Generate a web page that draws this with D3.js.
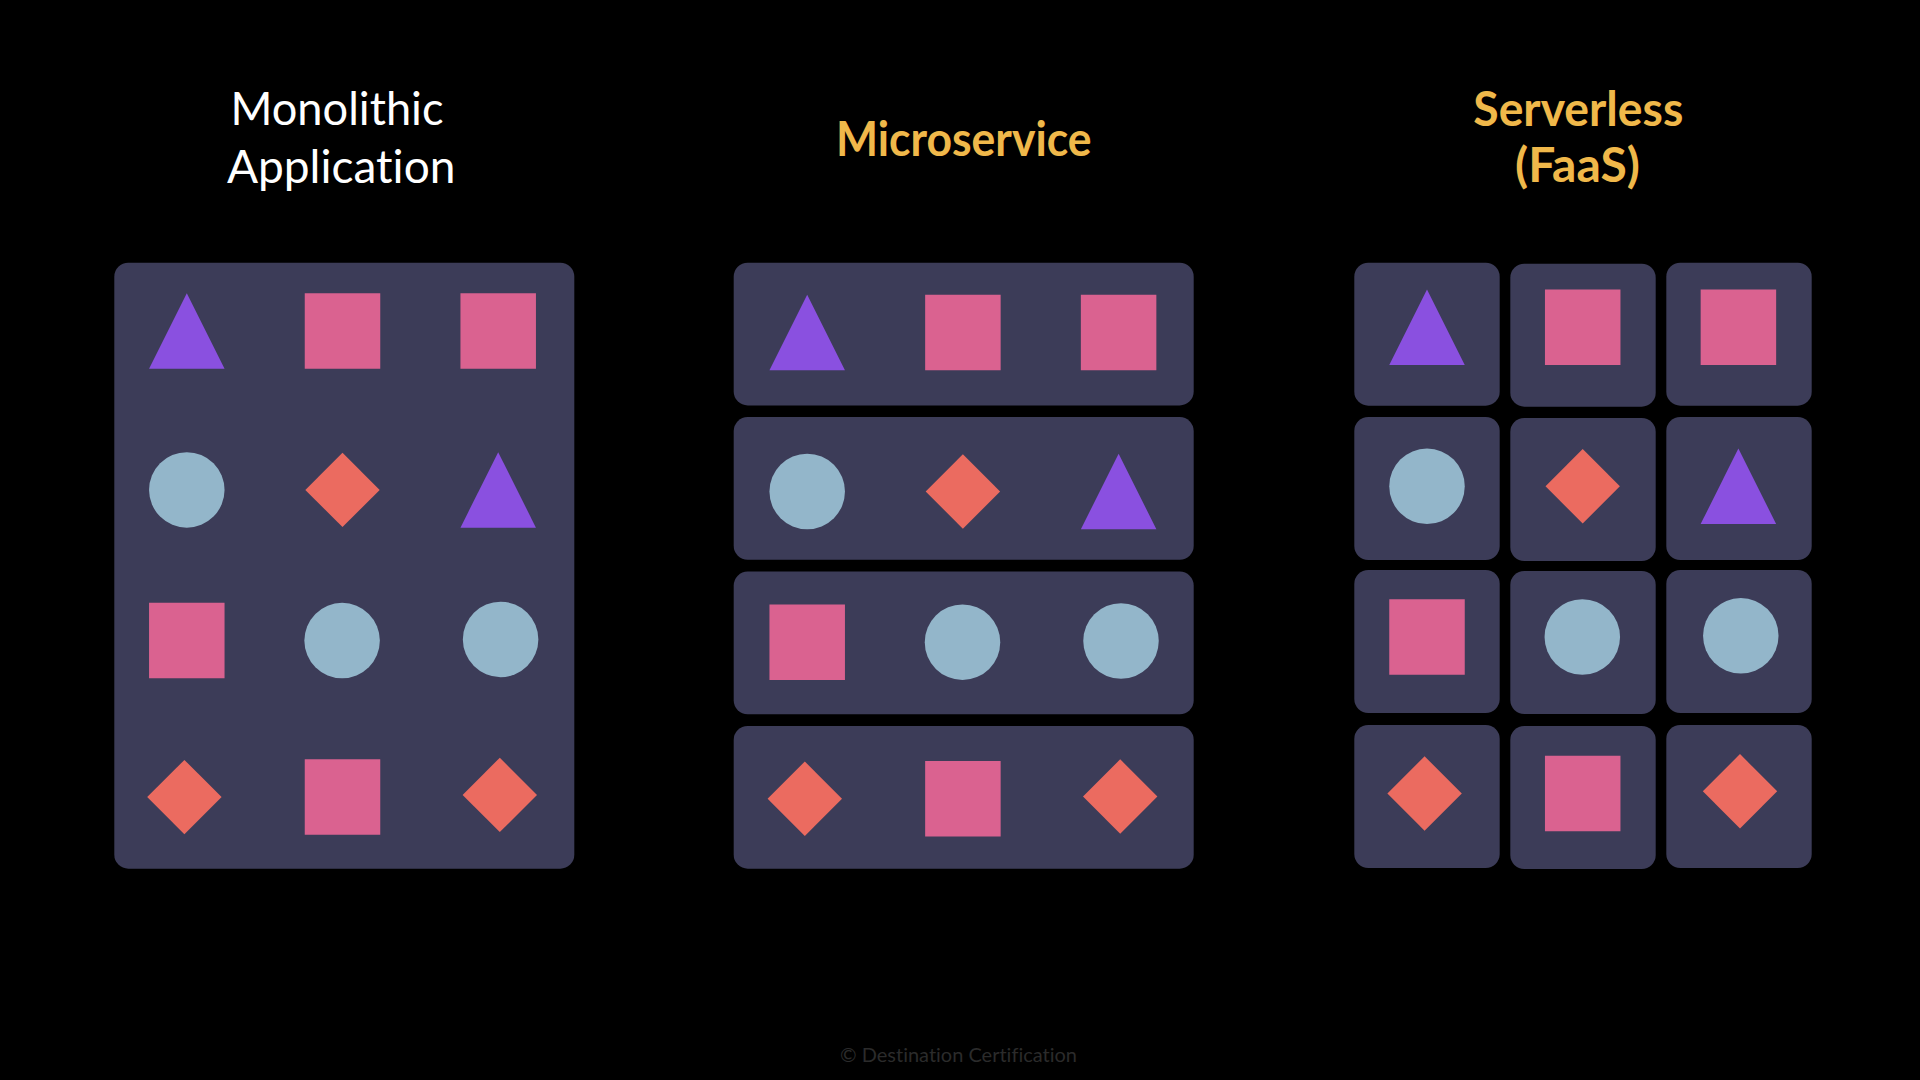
<!DOCTYPE html>
<html>
<head>
<meta charset="utf-8">
<title>Monolithic vs Microservice vs Serverless</title>
<script src="https://cdn.jsdelivr.net/npm/d3@7"></script>
<style>
  html, body { margin: 0; padding: 0; background: #000; overflow: hidden; }
  svg { display: block; }
  text { font-family: Lato, "Open Sans", sans-serif; font-variant-ligatures: none; }
</style>
</head>
<body>
<div class="chart"></div>
<script>
// Chart content
var panelNames = ["monolith", "micro", "faas"];
var titleLines = [["Monolithic", "Application"], ["Microservice"], ["Serverless", "(FaaS)"]];
var shapeRows = [
  ["triangle", "square", "square"],
  ["circle", "diamond", "triangle"],
  ["square", "circle", "circle"],
  ["diamond", "square", "diamond"]
];
var footerText = "\u00a9 Destination Certification";

var svgWidth = 1920;
var svgHeight = 1080;

var colors = {
  triangle: "#8a50e0",
  square: "#da6290",
  circle: "#93b6ca",
  diamond: "#eb6b60",
  box: "#3c3c58",
  white: "#ffffff",
  orange: "#f0b84a",
  footer: "#2b2b2b"
};

// Layout measured from the slide
var markSide = 75.5;
var boxRadius = 14;
var boxTop = 262.7;
var boxBottom = 868.7;

var panelLayout = {
  monolith: { left: 114.3, right: 574.3, markX: 186.8, markY: 330.9 },
  micro: { left: 733.7, right: 1193.7, markX: 807.2, markY: 332.5 },
  faas: { left: 1354.3, right: 1811.7, markX: 1427, markY: 327.3 }
};

// the shapes were placed by hand in the slide, so a few sit off the grid
var markNudge = {
  "2-1": [-0.4, 0],
  "2-2": [2.4, -1.2],
  "3-0": [-2.4, 0],
  "3-2": [1.6, -2.2]
};

var titleLayout = [
  [{ x: 337, y: 125, w: 213 }, { x: 341.2, y: 182.7, w: 228.5 }],
  [{ x: 963.8, y: 155.5, w: 255.7 }],
  [{ x: 1578.3, y: 125.5, w: 210 }, { x: 1577.5, y: 182.2, w: 125 }]
];
var titleColor = [colors.white, colors.orange, colors.orange];
var titleWeight = [400, 700, 700];

var rowIds = d3.range(shapeRows.length);
var colIds = d3.range(shapeRows[0].length);

var svg = d3.select(".chart")
  .append("svg")
  .attr("width", svgWidth)
  .attr("height", svgHeight);

// Custom d3.symbol types, size is the squared side length
var triangleType = {
  draw: function(context, size) {
    var s = Math.sqrt(size) / 2;
    context.moveTo(0, -s);
    context.lineTo(s, s);
    context.lineTo(-s, s);
    context.closePath();
  }
};
var diamondType = {
  draw: function(context, size) {
    var s = Math.sqrt(size) / 2;
    context.moveTo(0, -s);
    context.lineTo(s, 0);
    context.lineTo(0, s);
    context.lineTo(-s, 0);
    context.closePath();
  }
};

var symbolFor = {
  triangle: d3.symbol().type(triangleType).size(markSide * markSide),
  square: d3.symbol().type(d3.symbolSquare).size(markSide * markSide),
  circle: d3.symbol().type(d3.symbolCircle).size(Math.PI * markSide * markSide / 4),
  diamond: d3.symbol().type(diamondType).size(74.4 * 74.4)
};

// Mark positions relative to the first cell of a panel
var colScale = d3.scalePoint().domain(colIds).range([0, 311.4]);
var rowScale = d3.scaleOrdinal().domain(rowIds).range([0, 159, 309.7, 466.2]);

// Boxes behind the marks
var microRowScale = d3.scaleBand()
  .domain(rowIds)
  .range([boxTop, boxBottom])
  .paddingInner(0.0755);

var faasColScale = d3.scaleBand()
  .domain(colIds)
  .range([panelLayout.faas.left, panelLayout.faas.right])
  .paddingInner(0.068);
var faasRowTop = d3.scaleOrdinal().domain(rowIds).range([262.7, 417, 570, 725]);
var faasBoxHeight = 143;

var boxes = [];
boxes.push({
  x: panelLayout.monolith.left,
  y: boxTop,
  w: panelLayout.monolith.right - panelLayout.monolith.left,
  h: boxBottom - boxTop
});
rowIds.forEach(function(r) {
  boxes.push({
    x: panelLayout.micro.left,
    y: microRowScale(r),
    w: panelLayout.micro.right - panelLayout.micro.left,
    h: microRowScale.bandwidth()
  });
  colIds.forEach(function(c) {
    boxes.push({
      x: faasColScale(c),
      y: faasRowTop(r) + (c === 1 ? 1 : 0),
      w: faasColScale.bandwidth(),
      h: faasBoxHeight
    });
  });
});

svg.append("g")
  .selectAll("rect")
  .data(boxes)
  .enter()
  .append("rect")
  .attr("x", d => d.x)
  .attr("y", d => d.y)
  .attr("width", d => d.w)
  .attr("height", d => d.h)
  .attr("rx", boxRadius)
  .attr("fill", colors.box);

// Same 4x3 set of shapes in every panel
var marks = [];
panelNames.forEach(function(panel) {
  shapeRows.forEach(function(row, r) {
    row.forEach(function(shape, c) {
      marks.push({ panel: panel, row: r, col: c, shape: shape });
    });
  });
});

svg.append("g")
  .selectAll("path")
  .data(marks)
  .enter()
  .append("path")
  .attr("d", d => symbolFor[d.shape]())
  .attr("fill", d => colors[d.shape])
  .attr("transform", function(d) {
    var nudge = markNudge[d.row + "-" + d.col] || [0, 0];
    var x = panelLayout[d.panel].markX + colScale(d.col) + nudge[0];
    var y = panelLayout[d.panel].markY + rowScale(d.row) + nudge[1];
    return `translate(${x}, ${y})`;
  });

// Titles
titleLines.forEach(function(lines, i) {
  lines.forEach(function(line, j) {
    var pos = titleLayout[i][j];
    svg.append("text")
      .attr("x", pos.x)
      .attr("y", pos.y)
      .attr("text-anchor", "middle")
      .attr("font-size", 47)
      .attr("font-weight", titleWeight[i])
      .attr("fill", titleColor[i])
      .attr("textLength", pos.w)
      .attr("lengthAdjust", "spacingAndGlyphs")
      .text(line);
  });
});

svg.append("text")
  .attr("x", 958.5)
  .attr("y", 1061.7)
  .attr("text-anchor", "middle")
  .attr("font-size", 20)
  .attr("fill", colors.footer)
  .attr("textLength", 237)
  .attr("lengthAdjust", "spacingAndGlyphs")
  .text(footerText);
</script>
</body>
</html>
